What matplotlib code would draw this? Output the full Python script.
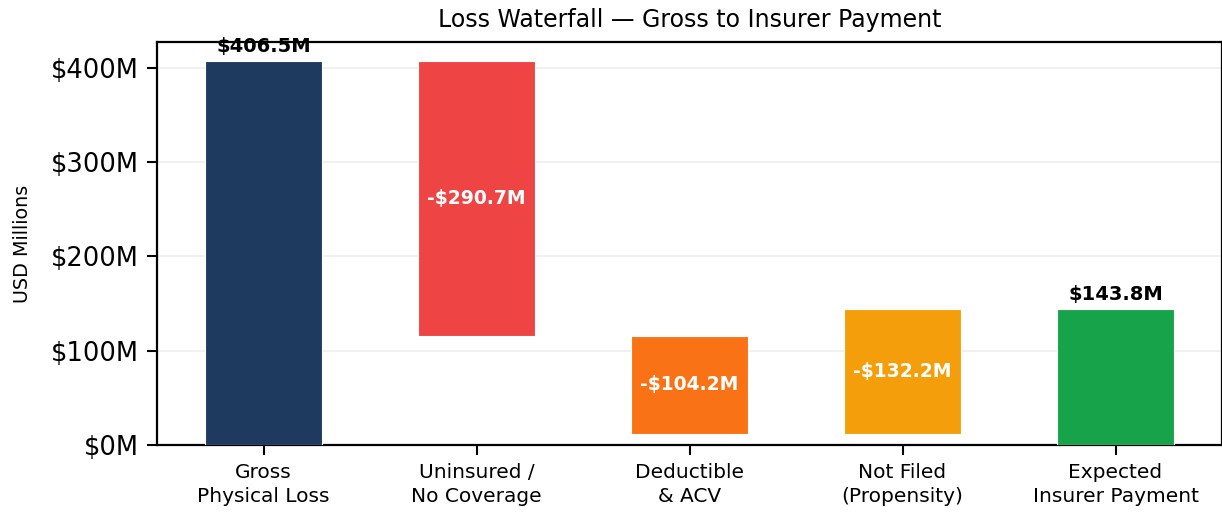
import matplotlib.pyplot as plt
import numpy as np

categories = ['Gross\nPhysical Loss', 'Uninsured /\nNo Coverage', 'Deductible\n& ACV',
              'Not Filed\n(Propensity)', 'Expected\nInsurer Payment']
gross = 406.5
deltas = [-290.7, -104.2, -132.2]
final = 143.8
colors = ['#1f3a5f', '#ef4444', '#f97316', '#f59e0b', '#16a34a']

# bar spans for waterfall
bottoms = [0]
heights = [gross]
running = gross
for d in deltas:
    lo = running + d
    if lo >= 0:
        bottoms.append(lo)
    else:
        bottoms.append(running)
    heights.append(-d)
    running = running + d
bottoms.append(0)
heights.append(final)

fig = plt.figure(figsize=(12.22, 5.15), dpi=100)
ax = fig.add_axes([0.1285, 0.136, 0.8715, 0.782])

x = np.arange(len(categories))
ax.bar(x, heights, bottom=bottoms, width=0.55, color=colors, edgecolor='white', linewidth=0.8, zorder=3)

ax.text(0, gross + 6, f'${gross:.1f}M', ha='center', va='bottom', fontsize=14, fontweight='bold')
ax.text(4, final + 6, f'${final:.1f}M', ha='center', va='bottom', fontsize=14, fontweight='bold')
for i, d in enumerate(deltas, start=1):
    ax.text(i, bottoms[i] + heights[i] / 2, f'-${abs(d):.1f}M', ha='center', va='center',
            fontsize=13.5, fontweight='bold', color='white')

ax.set_xlim(-0.5, 4.5)
ax.set_ylim(0, gross * 1.05)
ax.set_xticks(x)
ax.set_xticklabels(categories, fontsize=14.5, linespacing=1.3)
ax.set_yticks([0, 100, 200, 300, 400])
ax.set_yticklabels([f'${v}M' for v in [0, 100, 200, 300, 400]], fontsize=18.5)
ax.tick_params(axis='both', length=7, width=1.5, pad=6)
ax.set_ylabel('USD Millions', fontsize=13.8, labelpad=14)
ax.set_title('Loss Waterfall \u2014 Gross to Insurer Payment', fontsize=17, pad=11)
ax.grid(axis='y', color='#eeeeee', linewidth=1.2, zorder=0)
for s in ax.spines.values():
    s.set_linewidth(1.6)

fig.savefig('out.png', dpi=100)
